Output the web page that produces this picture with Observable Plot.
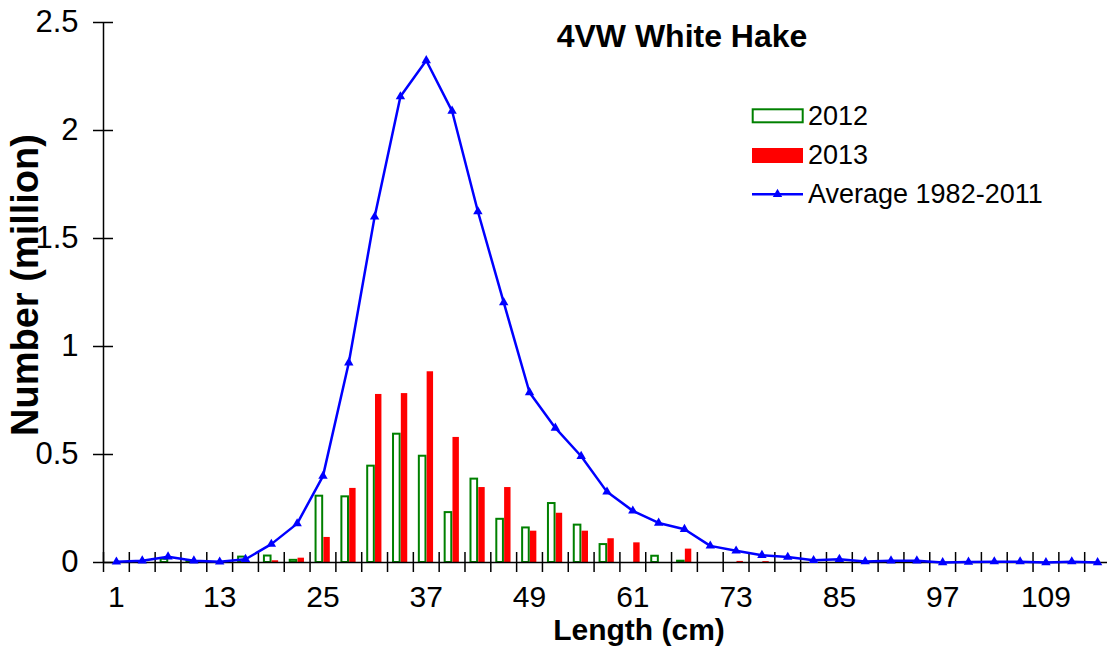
<!DOCTYPE html>
<html>
<head>
<meta charset="utf-8">
<script src="https://cdn.jsdelivr.net/npm/d3@7"></script>
<script src="https://cdn.jsdelivr.net/npm/@observablehq/plot@0.6"></script>
<style>
  body { margin: 0; background: #fff; }
  #wrap { position: relative; width: 1107px; height: 648px; overflow: hidden; background: #fff; }
  #wrap svg { position: absolute; left: 0; top: 0; }
  #overlay { pointer-events: none; font-family: "Liberation Sans", Arial, sans-serif; }
</style>
</head>
<body>
<div id="wrap"></div>
<script>
// Length classes (cm)
const lengths = [1,4,7,10,13,16,19,22,25,28,31,34,37,40,43,46,49,52,55,58,61,64,67,70,73,76,79,82,85,88,91,94,97,100,103,106,109,112,115];
// Number (million) by length class
const n2012 = [0,0,0.015,0.006,0,0.025,0.03,0.01,0.307,0.304,0.446,0.594,0.492,0.231,0.386,0.2,0.16,0.273,0.173,0.083,0,0.029,0.006,0,0,0,0,0,0,0,0,0,0,0,0,0,0,0,0];
const n2013 = [0,0,0,0,0,0,0.008,0.02,0.116,0.343,0.778,0.782,0.883,0.579,0.347,0.347,0.145,0.228,0.145,0.11,0.091,0,0.062,0,0.005,0.004,0,0,0,0,0,0,0,0,0,0,0,0,0];
const avg8211 = [0.003,0.008,0.027,0.008,0.003,0.015,0.085,0.18,0.40,0.925,1.60,2.157,2.324,2.09,1.625,1.204,0.787,0.623,0.492,0.327,0.239,0.183,0.154,0.077,0.054,0.034,0.025,0.01,0.015,0.005,0.008,0.008,0,0.002,0.004,0.004,0,0.004,0];
const xTickLabels = [1,13,25,37,49,61,73,85,97,109];
const yTicks = [0,0.5,1,1.5,2,2.5];
const seriesNames = ["2012","2013","Average 1982-2011"];
const titleText = "4VW White Hake";
const xTitle = "Length (cm)";
const yTitle = "Number (million)";

const data = lengths.map((len, i) => ({len, a: n2012[i], b: n2013[i], avg: avg8211[i]}));

const W = 1107, H = 648;
const mL = 103, mR = -3, mT = 22, mB = 86;
const bw = (W - mR - mL) / lengths.length;
const FONT = "Liberation Sans, Arial, sans-serif";

const chart = Plot.plot({
  width: W, height: H,
  marginLeft: mL, marginRight: mR, marginTop: mT, marginBottom: mB,
  style: {fontFamily: FONT, fontSize: "30px", color: "#000", background: "transparent", overflow: "visible"},
  x: {type: "band", domain: lengths, padding: 0, axis: null},
  y: {domain: [0, 2.5], axis: null},
  marks: [
    Plot.barY(data.filter(d => d.a > 0), {x: "len", y: "a", fill: "white", stroke: "#008000", strokeWidth: 2, insetLeft: 6, insetRight: 13.2}),
    Plot.barY(data.filter(d => d.b > 0), {x: "len", y: "b", fill: "#ff0000", insetLeft: 13.8, insetRight: 5.6}),
    // axis lines
    Plot.ruleY([0], {stroke: "#000", strokeWidth: 1.5}),
    Plot.ruleX([lengths[0]], {dx: -bw / 2, stroke: "#000", strokeWidth: 1.5}),
    // x category boundary ticks crossing the axis
    Plot.axisX({ticks: lengths, tickSize: 20, dy: -10, dx: -bw / 2, tickFormat: () => "", label: null, strokeWidth: 1.5}),
    Plot.axisX({ticks: xTickLabels, tickSize: 0, tickPadding: 23, fontSize: 30, label: null, tickFormat: d => String(d)}),
    // y ticks crossing the axis
    Plot.axisY({ticks: yTicks, tickSize: 20, dx: 10, tickFormat: () => "", label: null, strokeWidth: 1.5}),
    Plot.axisY({ticks: yTicks, tickSize: 0, tickPadding: 25, fontSize: 31, label: null, tickFormat: d => String(d)}),
    // average line
    Plot.line(data, {x: "len", y: "avg", stroke: "#0000ff", strokeWidth: 2.5}),
    Plot.dot(data, {x: "len", y: "avg", symbol: "triangle", r: 3.5, fill: "#0000ff", stroke: "none"})
  ]
});
document.getElementById("wrap").appendChild(chart);

// overlay: title, axis titles, legend
const svg = d3.select("#wrap").append("svg")
  .attr("id", "overlay").attr("width", W).attr("height", H);

svg.append("text").attr("x", 682).attr("y", 47).attr("text-anchor", "middle")
  .attr("font-size", 32).attr("font-weight", "bold").text(titleText);
svg.append("text").attr("x", 639).attr("y", 640).attr("text-anchor", "middle")
  .attr("font-size", 30).attr("font-weight", "bold").text(xTitle);
svg.append("text").attr("transform", "translate(38,285) rotate(-90)").attr("text-anchor", "middle")
  .attr("font-size", 38).attr("font-weight", "bold").text(yTitle);

const lg = svg.append("g");
lg.append("rect").attr("x", 752.7).attr("y", 109.3).attr("width", 50).attr("height", 13)
  .attr("fill", "white").attr("stroke", "#008000").attr("stroke-width", 2);
lg.append("rect").attr("x", 752).attr("y", 148).attr("width", 51).attr("height", 15).attr("fill", "#ff0000");
lg.append("line").attr("x1", 752).attr("x2", 803).attr("y1", 194.3).attr("y2", 194.3)
  .attr("stroke", "#0000ff").attr("stroke-width", 2.5);
lg.append("path").attr("transform", "translate(777.5,194.3)")
  .attr("d", d3.symbol(d3.symbolTriangle, Math.PI * 3.5 * 3.5)()).attr("fill", "#0000ff");
const baselines = [125, 164, 203];
seriesNames.forEach((s, i) => {
  lg.append("text").attr("x", 808).attr("y", baselines[i]).attr("font-size", 27).text(s);
});
</script>
</body>
</html>
